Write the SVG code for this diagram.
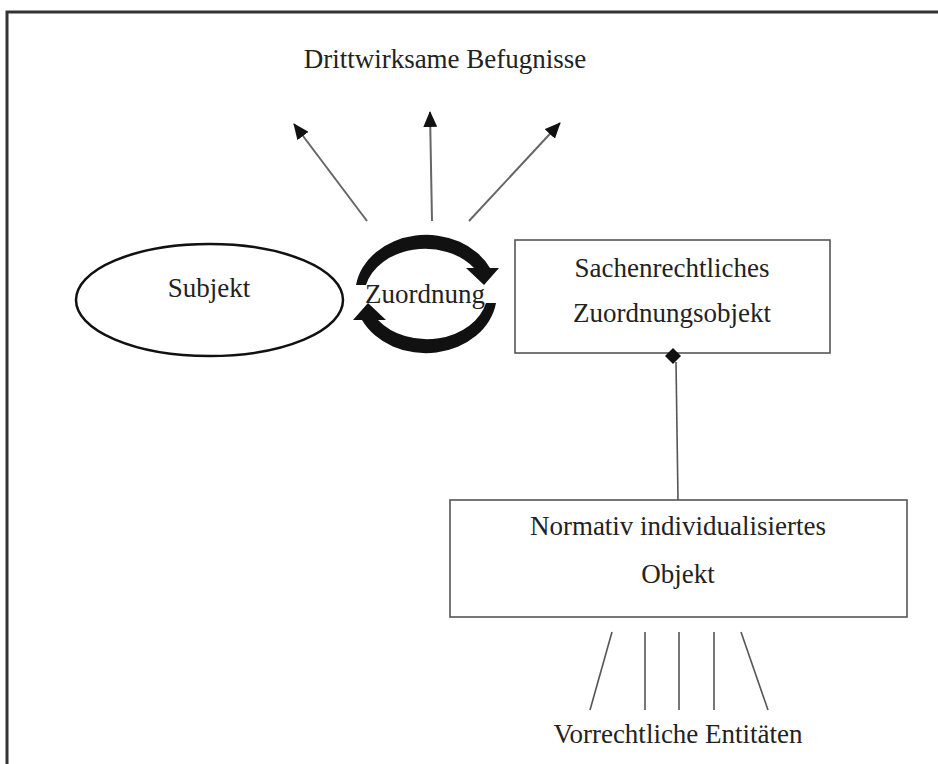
<svg xmlns="http://www.w3.org/2000/svg" width="938" height="764" viewBox="0 0 938 764">
<style>
  text { font-family: "Liberation Serif", "Times New Roman", serif; font-size: 27px; fill: #222; text-anchor: middle; }
  .box { fill: #fff; stroke: #555; stroke-width: 1.6; }
  .thin { stroke: #555; stroke-width: 1.6; fill: none; }
  .arr { stroke: #666; stroke-width: 2; fill: none; marker-end: url(#ah); }
</style>
<defs>
  <marker id="ah" viewBox="0 0 16 14" refX="15" refY="7" markerWidth="16" markerHeight="14" markerUnits="userSpaceOnUse" orient="auto">
    <path d="M0 0 L16 7 L0 14 Z" fill="#111"/>
  </marker>
  <path id="cyc" d="M356 285 A71 59 0 0 1 490 268 L499 268 L484 285 L466 268 L474 268 A61 48 0 0 0 366 285 Z" fill="#111"/>
</defs>
<rect width="938" height="764" fill="#fff"/>
<path d="M7 764 V12 H938" fill="none" stroke="#333" stroke-width="3"/>

<g id="befugnisse">
  <text x="445" y="68">Drittwirksame Befugnisse</text>
</g>

<g id="subjekt">
  <ellipse cx="209.5" cy="300" rx="133.5" ry="56" fill="#fff" stroke="#111" stroke-width="2.5"/>
  <text x="209" y="297">Subjekt</text>
</g>

<g id="zuordnung">
  <use href="#cyc"/>
  <use href="#cyc" transform="rotate(180 426 294)"/>
  <text x="425" y="303">Zuordnung</text>
</g>

<g id="zuordnungsobjekt">
  <rect class="box" x="515" y="240" width="315" height="113"/>
  <text x="672" y="277">Sachenrechtliches</text>
  <text x="672" y="322">Zuordnungsobjekt</text>
</g>

<g id="normativ">
  <rect class="box" x="450" y="500" width="457" height="117"/>
  <text x="678" y="535">Normativ individualisiertes</text>
  <text x="678" y="583">Objekt</text>
</g>

<g id="entitaeten">
  <text x="678" y="743">Vorrechtliche Entitäten</text>
</g>

<g id="connectors">
  <line class="arr" x1="367" y1="221" x2="294" y2="124"/>
  <line class="arr" x1="432" y1="221" x2="430" y2="112"/>
  <line class="arr" x1="469" y1="221" x2="560" y2="123"/>
  <line class="thin" x1="676" y1="362" x2="678" y2="500"/>
  <path d="M673 348 L681 356 L673 364 L665 356 Z" fill="#111"/>
  <line class="thin" x1="612" y1="632" x2="590" y2="710"/>
  <line class="thin" x1="645" y1="632" x2="645" y2="710"/>
  <line class="thin" x1="679" y1="632" x2="679" y2="710"/>
  <line class="thin" x1="714" y1="632" x2="714" y2="710"/>
  <line class="thin" x1="741" y1="632" x2="768" y2="710"/>
</g>
</svg>
